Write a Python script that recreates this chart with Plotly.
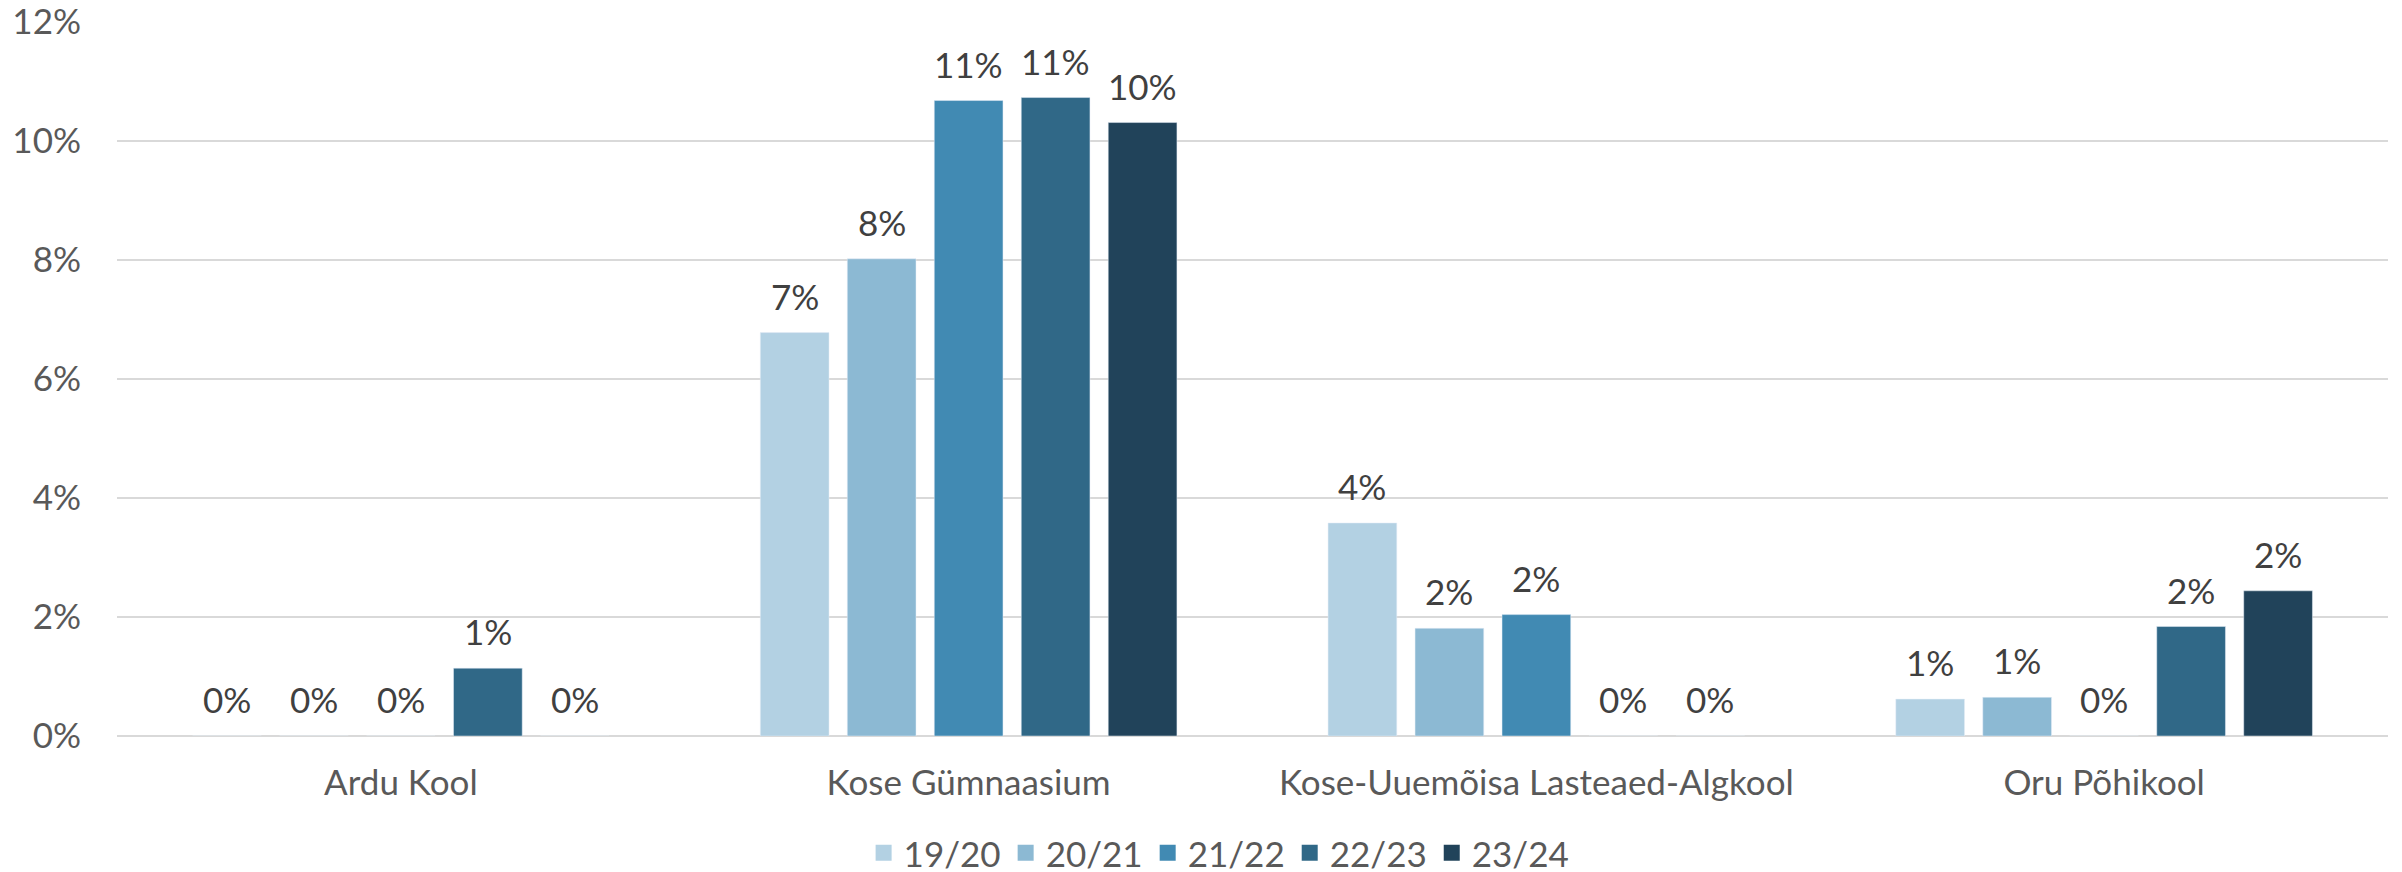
"""
    Bar chart: share per school and school year
"""

import plotly.graph_objects as go

schools = ['Ardu Kool', 'Kose Gümnaasium', 'Kose-Uuemõisa Lasteaed-Algkool', 'Oru Põhikool']
years = ['19/20', '20/21', '21/22', '22/23', '23/24']

# values per school year, in school order
v_1920 = [0.0, 0.0678, 0.0358, 0.0062]
v_2021 = [0.0, 0.0802, 0.0181, 0.0065]
v_2122 = [0.0, 0.1068, 0.0204, 0.0]
v_2223 = [0.0114, 0.1073, 0.0, 0.0184]
v_2324 = [0.0, 0.1031, 0.0, 0.0244]

y_ticks = [0, 0.02, 0.04, 0.06, 0.08, 0.10, 0.12]

colors = ['#B3D1E3', '#8CB9D3', '#418AB3', '#306887', '#21435A']

FONT = 'Lato'
# the page body has an 8px margin, so the figure is made 8px smaller each way
W, H = 2394, 864
M = dict(l=109, r=14, t=14, b=136)
BARGAP = 0.234


def plot(series, filename):
    fig = go.Figure()

    # width of one bar slot in pixels, used to put the labels over their bar
    cat_px = (W - M['l'] - M['r']) / len(schools)
    slot = cat_px * (1 - BARGAP) / len(years)
    mid = (len(years) - 1) / 2

    for i, (name, vals, col) in enumerate(zip(years, series, colors)):
        fig.add_trace(go.Bar(x=schools, y=vals, name=name, marker_color=col,
                             showlegend=False, hoverinfo='x+y+name'))
        # legend entry with a bigger square
        fig.add_trace(go.Scatter(x=[None], y=[None], mode='markers', name=name,
                                 marker=dict(symbol='square', size=16, color=col)))
        for school, v in zip(schools, vals):
            fig.add_annotation(x=school, y=v, text='{0:.0f}%'.format(v * 100),
                               showarrow=False, yanchor='bottom', yshift=14,
                               xshift=(i - mid) * slot,
                               font=dict(family=FONT, size=35, color='#404040'))

    fig.update_layout(
        width=W, height=H,
        margin=dict(M, autoexpand=False),
        plot_bgcolor='white', paper_bgcolor='white',
        font=dict(family=FONT, size=35, color='#595959'),
        barmode='group', bargap=BARGAP, bargroupgap=0.21,
        legend=dict(orientation='h', x=0.4853, xanchor='center', y=-0.164, yanchor='middle',
                    font=dict(size=35, color='#595959'), itemwidth=30),
        xaxis=dict(showgrid=False, showline=False, ticks='', ticklabelstandoff=23,
                   automargin=False),
        yaxis=dict(range=[0, 0.12], tickvals=y_ticks, tickformat='.0%',
                   ticklabeloverflow='allow',
                   showgrid=True, gridcolor='#D9D9D9', gridwidth=2,
                   zeroline=True, zerolinecolor='#D9D9D9', zerolinewidth=2,
                   showline=False, ticks='', ticklabelstandoff=35, automargin=False),
    )
    fig.write_html(filename)


if __name__ == '__main__':
    plot([v_1920, v_2021, v_2122, v_2223, v_2324], 'out.html')
